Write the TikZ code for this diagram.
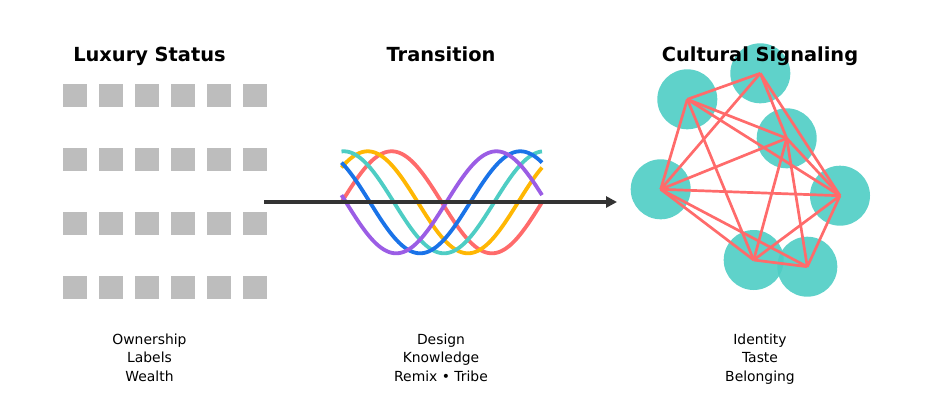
\documentclass[tikz,border=0pt]{standalone}
\usepackage{fontspec}
\setmainfont{DejaVu Sans}
\usetikzlibrary{arrows.meta}
\definecolor{sqgray}{HTML}{BDBDBD}
\definecolor{cred}{HTML}{FF6B6B}
\definecolor{cyellow}{HTML}{FFB703}
\definecolor{cteal}{HTML}{4ECDC4}
\definecolor{cblue}{HTML}{1A73E8}
\definecolor{cpurple}{HTML}{9B5DE5}
\definecolor{arrowgray}{HTML}{333333}
\tikzset{
  title/.style={anchor=base, font=\fontsize{19.4}{23}\selectfont\bfseries, text=black, inner sep=0pt},
  label/.style={anchor=base, font=\fontsize{13.9}{18}\selectfont, text=black, inner sep=0pt},
  sq/.style={fill=sqgray, draw=none, minimum size=23.5pt, inner sep=0pt},
  wave/.style={line width=3.8pt},
  netnode/.style={circle, fill=cteal, fill opacity=0.9, draw=none, minimum size=60pt, inner sep=0pt},
  netedge/.style={draw=cred, line width=2.7pt, line join=round},
  mainarrow/.style={draw=arrowgray, line width=3.6pt, -{Triangle[length=11pt,width=11pt]}}
}
\begin{document}
\begin{tikzpicture}[x=1pt, y=-1pt]
\useasboundingbox (0,0) rectangle (950,405);
% squares grid
\foreach \c [count=\ci] in {75,111,147,183,219,255}{
  \foreach \r [count=\ri] in {95.3,159.3,223.3,287.3}{
    \node[sq] (sq\ci\ri) at (\c,\r) {};
  }
}
% waves
\foreach \col [count=\i from 0] in {cred,cyellow,cteal,cblue,cpurple}{
  \draw[wave, draw=\col] plot[domain=0:360, samples=120, smooth]
    ({341.5 + 0.556944*\x}, {202.3 - 51*sin(\x + 42.97*\i)});
}
% arrow
\coordinate (astart) at (264,202);
\coordinate (aend) at (617,202);
\draw[mainarrow] (astart) -- (aend);
% network
\node[netnode] (A) at (687.3,99.3) {};
\node[netnode] (B) at (760.3,73.3) {};
\node[netnode] (C) at (786.7,138.3) {};
\node[netnode] (D) at (660.7,189.3) {};
\node[netnode] (E) at (840.0,195.7) {};
\node[netnode] (F) at (753.7,260.0) {};
\node[netnode] (G) at (807.3,266.7) {};
\foreach \u/\v in {A/B,A/C,A/D,A/E,A/F,B/C,B/D,B/E,C/D,C/E,C/F,C/G,D/E,D/F,D/G,E/F,E/G,F/G}{
  \draw[netedge] (\u.center) -- (\v.center);
}
% titles
\node[title] (t1) at (149.5,61.5) {Luxury Status};
\node[title] (t2) at (441,61.5) {Transition};
\node[title] (t3) at (760,61.5) {Cultural Signaling};
% bottom labels
\node[label] (l11) at (149.5,344.3) {Ownership};
\node[label] (l12) at (149.5,362.7) {Labels};
\node[label] (l13) at (149.5,381.1) {Wealth};
\node[label] (l21) at (441,344.3) {Design};
\node[label] (l22) at (441,362.7) {Knowledge};
\node[label] (l23) at (441,381.1) {Remix • Tribe};
\node[label] (l31) at (760,344.3) {Identity};
\node[label] (l32) at (760,362.7) {Taste};
\node[label] (l33) at (760,381.1) {Belonging};
\end{tikzpicture}
\end{document}
